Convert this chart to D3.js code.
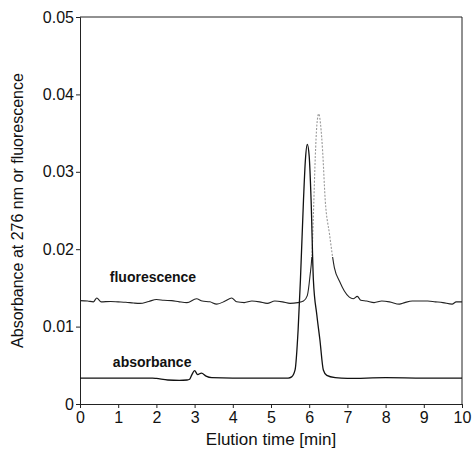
<!DOCTYPE html>
<html><head><meta charset="utf-8">
<script src="https://cdn.jsdelivr.net/npm/d3@7"></script>
<style>body{margin:0;background:#fff;} svg{display:block;}</style>
</head><body>
<svg id="c" width="472" height="450"></svg>
<script>
// ---- data ----
const xTicks = [0,1,2,3,4,5,6,7,8,9,10];
const yTicks = [0,0.01,0.02,0.03,0.04,0.05];
const yTickLabels = ["0","0.01","0.02","0.03","0.04","0.05"];
const seriesNames = ["fluorescence","absorbance"];
const absTime = [0,1.0,1.9,2.0,2.3,2.6,2.8,2.87,2.93,3.0,3.08,3.18,3.3,3.45,4,5,5.45,5.54,5.63,5.71,5.77,5.85,5.9,5.95,6.0,6.05,6.11,6.2,6.28,6.37,6.46,6.68,7,8,9,10];
const absVal  = [0.00335,0.00335,0.00335,0.0033,0.0031,0.00305,0.0031,0.0032,0.0038,0.0043,0.0038,0.0040,0.0036,0.0034,0.00335,0.00335,0.00335,0.0035,0.0044,0.0096,0.0160,0.0263,0.0315,0.03355,0.0320,0.0263,0.0160,0.0115,0.0083,0.0044,0.0037,0.0034,0.0033,0.0034,0.00335,0.00335];
const fluTime = [0,0.2,0.35,0.44,0.55,0.8,1.0,1.2,1.4,1.57,1.8,2.0,2.2,2.4,2.6,2.8,3.05,3.2,3.4,3.58,3.8,3.97,4.1,4.3,4.5,4.7,4.9,5.1,5.3,5.5,5.7,5.85,5.95,6.02,6.08,6.12,6.16,6.2,6.25,6.3,6.35,6.42,6.53,6.66,6.8,6.92,7.05,7.15,7.26,7.35,7.5,7.7,7.9,8.1,8.36,8.5,8.7,8.9,9.1,9.3,9.5,9.74,9.85,10];
const fluVal  = [0.01335,0.0133,0.0132,0.0137,0.0132,0.01325,0.0132,0.01315,0.01305,0.0130,0.01325,0.0135,0.0134,0.01335,0.0132,0.0131,0.0136,0.0133,0.0132,0.0129,0.0133,0.0137,0.0132,0.0131,0.0133,0.0132,0.0130,0.0133,0.0132,0.0130,0.0131,0.0133,0.0140,0.0165,0.0200,0.0260,0.0320,0.0360,0.0375,0.0360,0.0328,0.0263,0.0220,0.0176,0.0158,0.0146,0.0138,0.0136,0.0139,0.0134,0.0133,0.0131,0.0133,0.0132,0.0129,0.0131,0.0133,0.0133,0.0133,0.0132,0.0131,0.0129,0.0132,0.0132];

// ---- chart ----
const svg = d3.select("#c");
const x = d3.scaleLinear().domain([0,10]).range([80,462]);
const y = d3.scaleLinear().domain([0,0.05]).range([404,17]);
const font = "'Liberation Sans', Arial, Helvetica, sans-serif";

// frame
svg.append("line").attr("x1",x(0)).attr("x2",x(10)).attr("y1",y(0.05)).attr("y2",y(0.05)).attr("stroke","#222").attr("stroke-width",1);
svg.append("line").attr("x1",x(10)).attr("x2",x(10)).attr("y1",y(0.05)).attr("y2",y(0)).attr("stroke","#222").attr("stroke-width",1);

const xAxis = svg.append("g").attr("transform",`translate(0,${y(0)})`)
  .call(d3.axisBottom(x).tickValues(xTicks).tickSize(4).tickPadding(4).tickFormat(d3.format("d")));
const yAxis = svg.append("g").attr("transform",`translate(${x(0)},0)`)
  .call(d3.axisLeft(y).tickValues(yTicks).tickSize(4).tickPadding(2).tickFormat((d,i)=>yTickLabels[i]));
[xAxis,yAxis].forEach(g=>{
  g.select(".domain").attr("stroke","#222");
  g.selectAll(".tick line").attr("stroke","#222");
  g.selectAll("text").attr("font-family",font).attr("font-size",16).attr("fill","#111");
});

const line = d3.line().x(d=>x(d[0])).y(d=>y(d[1])).curve(d3.curveMonotoneX);
const absData = absTime.map((t,i)=>[t,absVal[i]]);
const fluData = fluTime.map((t,i)=>[t,fluVal[i]]);

// clip regions for fluorescence styling
const defs = svg.append("defs");
defs.append("clipPath").attr("id","low").append("rect")
  .attr("x",0).attr("y",y(0.019)).attr("width",472).attr("height",450);
defs.append("clipPath").attr("id","high").append("rect")
  .attr("x",0).attr("y",0).attr("width",472).attr("height",y(0.019));

svg.append("path").datum(fluData).attr("d",line).attr("fill","none")
  .attr("stroke","#999").attr("stroke-width",1.1).attr("stroke-dasharray","2,1.5").attr("clip-path","url(#high)");
svg.append("path").datum(fluData).attr("d",line).attr("fill","none")
  .attr("stroke","#222").attr("stroke-width",1.1).attr("clip-path","url(#low)");
svg.append("path").datum(absData).attr("d",line).attr("fill","none")
  .attr("stroke","#111").attr("stroke-width",1.3);

// series labels
svg.append("text").attr("x",x(0.78)).attr("y",y(0.0157)).text(seriesNames[0])
  .attr("font-family",font).attr("font-weight","bold").attr("font-size",14).attr("fill","#111");
svg.append("text").attr("x",x(0.86)).attr("y",y(0.0048)).text(seriesNames[1])
  .attr("font-family",font).attr("font-weight","bold").attr("font-size",14).attr("fill","#111");

// axis titles
svg.append("text").attr("x",(x(0)+x(10))/2).attr("y",445).attr("text-anchor","middle")
  .text("Elution time [min]").attr("font-family",font).attr("font-size",17).attr("fill","#111");
svg.append("text").attr("transform",`translate(23,${(y(0)+y(0.05))/2}) rotate(-90)`).attr("text-anchor","middle")
  .text("Absorbance at 276 nm or fluorescence").attr("font-family",font).attr("font-size",16).attr("fill","#111");
</script>
</body></html>
